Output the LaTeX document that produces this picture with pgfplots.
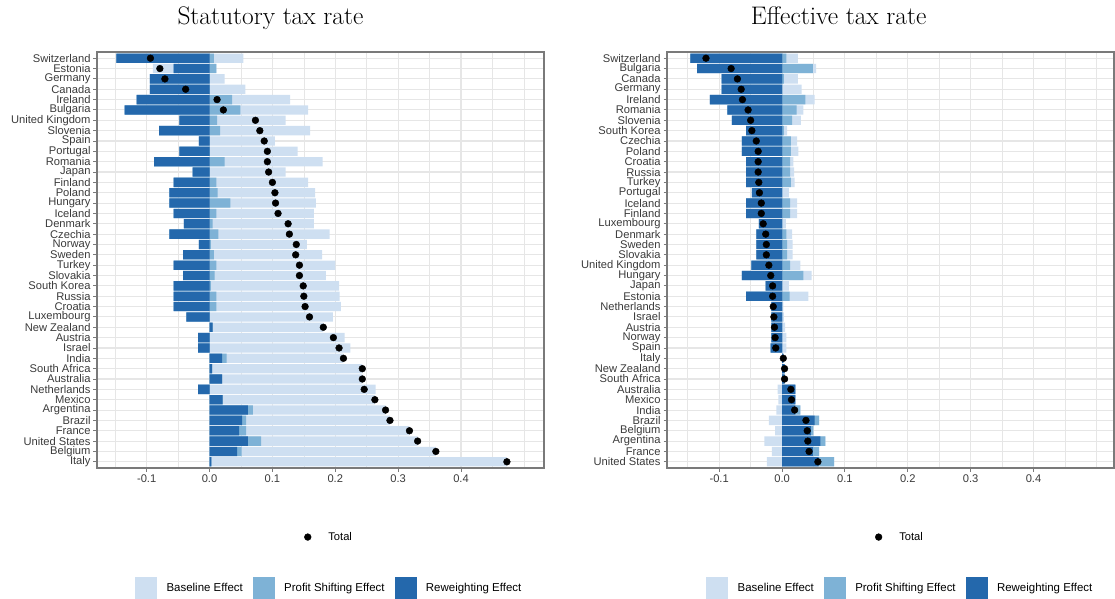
\documentclass[border=0pt]{standalone}
\usepackage{fontspec}
\usepackage{pgfplots}
\usepackage{pgfplotstable}
\pgfplotsset{compat=1.18}
\newfontfamily\arial{Liberation Sans}

\definecolor{cBase}{HTML}{CEDFF1}
\definecolor{cPS}{HTML}{7EB2D6}
\definecolor{cRW}{HTML}{2468AC}
\definecolor{gridc}{HTML}{E6E6E6}
\definecolor{framec}{HTML}{7A7A7A}
\definecolor{tickc}{HTML}{3A3A3A}

% Decomposition of the tax-rate change: baseline (B), profit shifting (P),
% reweighting (R) and the total change (T)
\pgfplotstableread{
idx country B P R T
1 Switzerland 0.047 0.007 -0.148 -0.094
2 Estonia -0.033 0.011 -0.057 -0.079
3 Germany 0.024 0 -0.095 -0.071
4 Canada 0.057 0 -0.095 -0.038
5 Ireland 0.092 0.036 -0.116 0.012
6 Bulgaria 0.108 0.049 -0.135 0.022
7 {United Kingdom} 0.109 0.012 -0.048 0.073
8 Slovenia 0.143 0.017 -0.080 0.080
9 Spain 0.104 0 -0.017 0.087
10 Portugal 0.140 0 -0.048 0.092
11 Romania 0.156 0.024 -0.088 0.092
12 Japan 0.121 0 -0.027 0.094
13 Finland 0.146 0.011 -0.057 0.100
14 Poland 0.155 0.013 -0.064 0.104
15 Hungary 0.136 0.033 -0.064 0.105
16 Iceland 0.155 0.011 -0.057 0.109
17 Denmark 0.161 0.005 -0.041 0.125
18 Czechia 0.177 0.014 -0.064 0.127
19 Norway 0.153 0.002 -0.017 0.138
20 Sweden 0.172 0.007 -0.042 0.137
21 Turkey 0.189 0.011 -0.057 0.143
22 Slovakia 0.177 0.008 -0.042 0.143
23 {South Korea} 0.204 0.002 -0.057 0.149
24 Russia 0.196 0.011 -0.057 0.150
25 Croatia 0.198 0.011 -0.057 0.152
26 Luxembourg 0.196 0 -0.037 0.159
27 {New Zealand} 0.176 0 0.005 0.181
28 Austria 0.215 0 -0.018 0.197
29 Israel 0.224 0 -0.018 0.206
30 India 0.186 0.007 0.020 0.213
31 {South Africa} 0.239 0 0.004 0.243
32 Australia 0.223 0 0.020 0.243
33 Netherlands 0.264 0 -0.018 0.246
34 Mexico 0.242 0 0.021 0.263
35 Argentina 0.211 0.008 0.061 0.280
36 Brazil 0.229 0.006 0.052 0.287
37 France 0.260 0.011 0.047 0.318
38 {United States} 0.249 0.021 0.061 0.331
39 Belgium 0.309 0.007 0.044 0.360
40 Italy 0.470 0 0.003 0.473
}\statutory

\pgfplotstableread{
idx country B P R T
1 Switzerland 0.018 0.007 -0.146 -0.121
2 Bulgaria 0.005 0.049 -0.135 -0.081
3 Canada 0.022 0.003 -0.096 -0.071
4 Germany 0.031 0 -0.096 -0.065
5 Ireland 0.015 0.037 -0.115 -0.063
6 Romania 0.011 0.023 -0.087 -0.054
7 Slovenia 0.014 0.016 -0.080 -0.050
8 {South Korea} 0.005 0.003 -0.057 -0.048
9 Czechia 0.010 0.014 -0.064 -0.041
10 Poland 0.012 0.014 -0.064 -0.038
11 Croatia 0.005 0.013 -0.057 -0.038
12 Russia 0.006 0.013 -0.057 -0.038
13 Turkey 0.006 0.014 -0.057 -0.037
14 Portugal 0.011 0 -0.048 -0.036
15 Iceland 0.011 0.013 -0.057 -0.033
16 Finland 0.011 0.013 -0.057 -0.033
17 Luxembourg 0.006 0 -0.037 -0.030
18 Denmark 0.009 0.007 -0.041 -0.026
19 Sweden 0.009 0.008 -0.041 -0.025
20 Slovakia 0.009 0.008 -0.041 -0.025
21 {United Kingdom} 0.016 0.013 -0.049 -0.021
22 Hungary 0.013 0.034 -0.064 -0.018
23 Japan 0.011 0 -0.026 -0.015
24 Estonia 0.030 0.012 -0.057 -0.015
25 Netherlands 0.002 0 -0.017 -0.014
26 Israel 0.003 0 -0.017 -0.013
27 Austria 0.005 0 -0.017 -0.012
28 Norway 0.007 0 -0.017 -0.011
29 Spain 0.007 0 -0.018 -0.010
30 Italy 0 0 0.002 0.002
31 {New Zealand} 0 0 0.004 0.004
32 {South Africa} 0 0 0.004 0.004
33 Australia -0.007 0 0.021 0.014
34 Mexico -0.006 0 0.021 0.015
35 India -0.009 0.008 0.021 0.020
36 Brazil -0.021 0.007 0.052 0.038
37 Belgium -0.011 0.004 0.046 0.040
38 Argentina -0.028 0.008 0.061 0.041
39 France -0.016 0.010 0.049 0.043
40 {United States} -0.024 0.025 0.058 0.057
}\effective

\pgfplotsset{
  decomp/.style={
    anchor=south west, width=447bp, height=416bp, scale only axis,
    y dir=reverse, ymin=0.4, ymax=40.6,
    ytick={1,...,40},
    xtick={-0.1,0,0.1,0.2,0.3,0.4},
    xticklabels={-0.1,0.0,0.1,0.2,0.3,0.4},
    minor xtick={-0.15,-0.05,0.05,0.15,0.25,0.35,0.45,0.5},
    xmajorgrids, xminorgrids, ymajorgrids,
    major grid style={draw=gridc, line width=1.1bp},
    minor grid style={draw=gridc, line width=0.6bp},
    tick align=outside, major tick length=3.5bp, minor tick length=0pt,
    xtick pos=left, ytick pos=left,
    tick style={draw=framec, line width=0.9bp},
    axis line style={draw=framec, line width=1.3bp},
    ticklabel style={font=\arial\fontsize{11.2}{12}\selectfont, text=tickc},
    yticklabel style={inner xsep=2.8bp},
    xticklabel style={inner ysep=3bp},
    title style={font=\fontsize{25.5}{30}\selectfont, anchor=base, yshift=22bp},
    legend style={draw=none, fill=none, inner sep=0pt, anchor=west,
      legend columns=3, font=\arial\fontsize{11.5}{12}\selectfont, text=black,
      /tikz/every odd column/.append style={column sep=8bp},
      /tikz/every even column/.append style={column sep=8bp}},
  },
  bars/.style={xbar, bar shift=0pt, bar width=0.9, draw=none, forget plot},
  totalkey/.style={anchor=south west, width=447bp, height=416bp, scale only axis,
    hide axis, xmin=0, xmax=1, ymin=0, ymax=1,
    legend style={draw=none, fill=none, inner sep=0pt, anchor=west,
      font=\arial\fontsize{11.2}{12}\selectfont,
      /tikz/every odd column/.append style={column sep=15bp}}},
}

% stacked extents, positive and negative sides separately (R nearest zero)
\newcommand{\decompbars}[1]{%
  \addplot[bars, fill=cBase] table[y=idx, x expr={max(\thisrow{R},0)+max(\thisrow{P},0)+max(\thisrow{B},0)}] {#1};
  \addplot[bars, fill=cBase] table[y=idx, x expr={min(\thisrow{R},0)+min(\thisrow{P},0)+min(\thisrow{B},0)}] {#1};
  \addplot[bars, fill=cPS] table[y=idx, x expr={max(\thisrow{R},0)+max(\thisrow{P},0)}] {#1};
  \addplot[bars, fill=cPS] table[y=idx, x expr={min(\thisrow{R},0)+min(\thisrow{P},0)}] {#1};
  \addplot[bars, fill=cRW] table[y=idx, x expr={max(\thisrow{R},0)}] {#1};
  \addplot[bars, fill=cRW] table[y=idx, x expr={min(\thisrow{R},0)}] {#1};
  \addplot[only marks, mark=*, mark size=3.4bp, black, forget plot] table[y=idx, x=T] {#1};
  \addlegendimage{legend image code/.code={\fill[cBase] (0bp,-10.5bp) rectangle (21bp,10.5bp);}}
  \addlegendentry{Baseline Effect}
  \addlegendimage{legend image code/.code={\fill[cPS] (0bp,-10.5bp) rectangle (21bp,10.5bp);}}
  \addlegendentry{Profit Shifting Effect}
  \addlegendimage{legend image code/.code={\fill[cRW] (0bp,-10.5bp) rectangle (21bp,10.5bp);}}
  \addlegendentry{Reweighting Effect}
}

\begin{document}
\begin{tikzpicture}
\useasboundingbox (0,0) rectangle (1115bp,599bp);

% Statutory tax rate
\begin{axis}[decomp, at={(97bp,131bp)},
  xmin=-0.179, xmax=0.532,
  yticklabels from table={\statutory}{country},
  title={Statutory tax rate}, title style={at={(0.388,1)}},
  legend style={at={(0.085,-0.2885)}}]
\decompbars{\statutory}
\end{axis}
\begin{axis}[totalkey, at={(97bp,131bp)}, legend style={at={(0.463,-0.166)}}]
\addlegendimage{legend image code/.code={\fill[black] (3.4bp,0) circle (3.4bp);}}
\addlegendentry{Total}
\end{axis}

% Effective tax rate
\begin{axis}[decomp, at={(667bp,131bp)},
  xmin=-0.183, xmax=0.528,
  yticklabels from table={\effective}{country},
  title={Effective tax rate}, title style={at={(0.384,1)}},
  legend style={at={(0.0874,-0.2885)}}]
\decompbars{\effective}
\end{axis}
\begin{axis}[totalkey, at={(667bp,131bp)}, legend style={at={(0.465,-0.166)}}]
\addlegendimage{legend image code/.code={\fill[black] (3.4bp,0) circle (3.4bp);}}
\addlegendentry{Total}
\end{axis}
\end{tikzpicture}
\end{document}
